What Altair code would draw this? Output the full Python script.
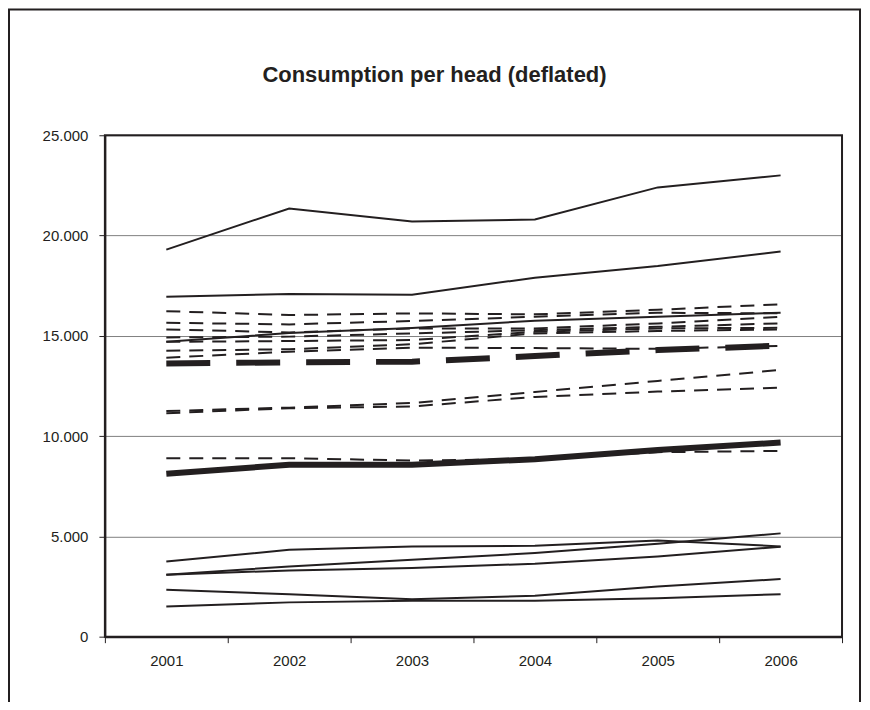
import altair as alt
import pandas as pd

years = ["2001", "2002", "2003", "2004", "2005", "2006"]

# thin solid series
solid_1 = [19300, 21350, 20700, 20800, 22400, 23000]
solid_2 = [16950, 17080, 17050, 17900, 18480, 19200]
solid_3 = [14700, 15140, 15390, 15750, 15950, 16150]
solid_4 = [3750, 4330, 4500, 4530, 4800, 4500]
solid_5 = [3090, 3500, 3830, 4170, 4630, 5150]
solid_6 = [3090, 3300, 3420, 3640, 4000, 4480]
solid_7 = [2340, 2120, 1870, 2040, 2500, 2870]
solid_8 = [1510, 1710, 1790, 1790, 1920, 2120]

# thin dashed series
dash_1 = [16230, 16035, 16120, 16070, 16300, 16570]
dash_2 = [15650, 15570, 15740, 15950, 16150, 16120]
dash_3 = [15320, 15170, 15370, 15370, 15620, 15950]
dash_4 = [14920, 14960, 15120, 15280, 15450, 15620]
dash_5 = [14700, 14740, 14790, 15200, 15370, 15400]
dash_6 = [14260, 14330, 14580, 15120, 15240, 15320]
dash_7 = [13910, 14210, 14410, 14390, 14350, 14500]
dash_8 = [11250, 11420, 11650, 12200, 12750, 13300]
dash_9 = [11140, 11390, 11480, 11950, 12220, 12420]
dash_10 = [8900, 8900, 8780, 8850, 9200, 9260]

# thick series
thick_solid = [8120, 8570, 8570, 8850, 9310, 9680]
thick_dash = [13620, 13680, 13710, 13990, 14290, 14510]

y_ticks = [0, 5000, 10000, 15000, 20000, 25000]
title_text = "Consumption per head (deflated)"


def long(series):
    rows = []
    for name, vals in series.items():
        for y, v in zip(years, vals):
            rows.append({"series": name, "year": y, "value": v})
    return pd.DataFrame(rows)


df_thin_solid = long({"solid_1": solid_1, "solid_2": solid_2, "solid_3": solid_3,
                      "solid_4": solid_4, "solid_5": solid_5, "solid_6": solid_6,
                      "solid_7": solid_7, "solid_8": solid_8})
df_thin_dash = long({"dash_1": dash_1, "dash_2": dash_2, "dash_3": dash_3,
                     "dash_4": dash_4, "dash_5": dash_5, "dash_6": dash_6,
                     "dash_7": dash_7, "dash_8": dash_8, "dash_9": dash_9,
                     "dash_10": dash_10})
df_thick_solid = long({"thick_solid": thick_solid})
df_thick_dash = long({"thick_dash": thick_dash})

INK = "#231f20"
FONT = "Liberation Sans"

x_enc = alt.X(
    "year:O",
    sort=years,
    bandPosition=0.5,
    scale=alt.Scale(type="band", domain=years, paddingInner=0, paddingOuter=0),
    axis=alt.Axis(title=None, labelAngle=0, tickBand="extent", tickSize=6,
                  tickColor=INK, tickWidth=1, domain=True, domainColor=INK,
                  domainWidth=2, labelFont=FONT, labelFontSize=15,
                  labelColor=INK, labelPadding=11, grid=False),
)
y_enc = alt.Y(
    "value:Q",
    scale=alt.Scale(domain=[0, 25000], nice=False),
    axis=alt.Axis(title=None, values=y_ticks, tickSize=6, tickColor=INK, tickWidth=1,
                  domain=True, domainColor=INK, domainWidth=2,
                  grid=True, gridColor="#808080", gridWidth=1,
                  labelFont=FONT, labelFontSize=15, labelColor=INK, labelPadding=11,
                  labelExpr="replace(format(datum.value, ',d'), ',', '.')"),
)

thin_solid_layer = alt.Chart(df_thin_solid).mark_line(color=INK, strokeWidth=2).encode(
    x=x_enc, y=y_enc, detail="series:N")
thin_dash_layer = alt.Chart(df_thin_dash).mark_line(
    color=INK, strokeWidth=2, strokeDash=[14, 9]).encode(
    x=x_enc, y=y_enc, detail="series:N")
thick_solid_layer = alt.Chart(df_thick_solid).mark_line(color=INK, strokeWidth=6).encode(
    x=x_enc, y=y_enc, detail="series:N")
thick_dash_layer = alt.Chart(df_thick_dash).mark_line(
    color=INK, strokeWidth=6, strokeDash=[44, 26]).encode(
    x=x_enc, y=y_enc, detail="series:N")

deco = pd.DataFrame({"k": [0]})
frame = alt.Chart(deco).mark_rect(
    fill=None, stroke=INK, strokeWidth=2).encode(
    x=alt.value(-96), x2=alt.value(756), y=alt.value(-126), y2=alt.value(700))
plot_frame = alt.Chart(deco).mark_rect(
    fill=None, stroke=INK, strokeWidth=2).encode(
    x=alt.value(0), x2=alt.value(738), y=alt.value(0), y2=alt.value(502))
title = alt.Chart(deco).mark_text(
    font=FONT, fontSize=22, fontWeight="bold", color=INK,
    align="center", baseline="middle").encode(
    x=alt.value(330), y=alt.value(-60), text=alt.value(title_text))

chart = alt.layer(
    frame, title, thin_solid_layer, thin_dash_layer, thick_dash_layer,
    thick_solid_layer, plot_frame
).properties(
    width=738,
    height=502,
    padding={"left": 97, "top": 127, "right": 20, "bottom": 65},
    autosize=alt.AutoSizeParams(type="none"),
).configure_view(stroke=None).configure(background="white")

chart.save("out.html", embed_options={"renderer": "svg", "actions": False})
